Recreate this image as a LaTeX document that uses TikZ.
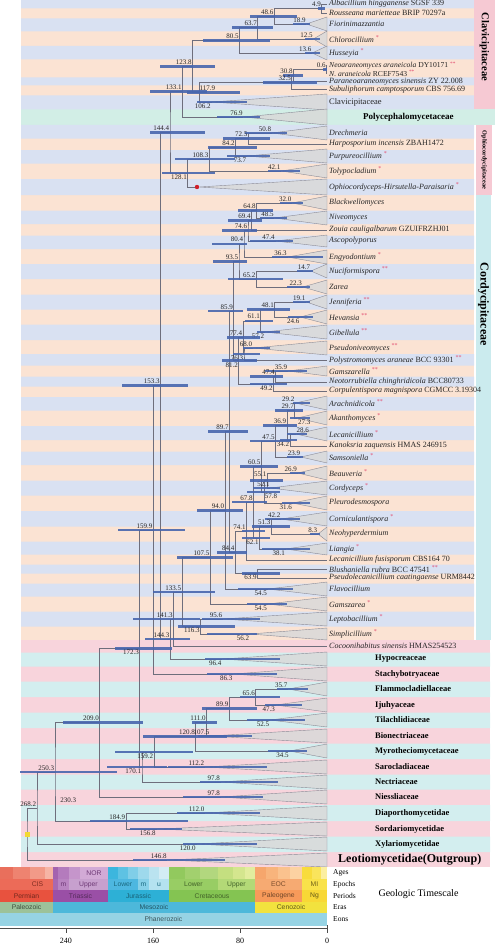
\documentclass[tikz,border=0pt]{standalone}
\usepackage{fontspec}
\setmainfont{Liberation Serif}
\setsansfont{Liberation Sans}
\definecolor{rowblue}{HTML}{D9E1F2}
\definecolor{rowpeach}{HTML}{FBE3D3}
\definecolor{rowpink}{HTML}{F8D4DC}
\definecolor{rowcyan}{HTML}{D3EEEF}
\definecolor{rowmint}{HTML}{D2EEE6}
\definecolor{boxpink}{HTML}{F6C9D3}
\definecolor{boxcyan}{HTML}{CBEBEE}
\definecolor{barblue}{HTML}{4866AE}
\definecolor{treegray}{HTML}{6E6E7C}
\definecolor{cladegray}{HTML}{D9D9D9}
\definecolor{starred}{HTML}{E24A6E}
\definecolor{marker}{HTML}{F3D931}
\definecolor{dotred}{HTML}{D0202A}
\definecolor{agP1}{HTML}{E96F5C}\definecolor{agP2}{HTML}{EE8370}\definecolor{agP3}{HTML}{F29A88}\definecolor{agP4}{HTML}{F6B4A5}
\definecolor{agT1}{HTML}{A463AF}\definecolor{agT2}{HTML}{B47BBD}\definecolor{agT3}{HTML}{C595CB}\definecolor{agT4}{HTML}{D2AAD6}
\definecolor{agJ1}{HTML}{3CB6DE}\definecolor{agJ2}{HTML}{5EC2E3}\definecolor{agJ3}{HTML}{80CEE8}\definecolor{agJ4}{HTML}{9ED9EC}\definecolor{agJ5}{HTML}{BAE3F0}\definecolor{agJ6}{HTML}{D3ECF4}
\definecolor{agK1}{HTML}{92C95E}\definecolor{agK2}{HTML}{A2D06E}\definecolor{agK3}{HTML}{B2D77E}\definecolor{agK4}{HTML}{C4DF80}\definecolor{agK5}{HTML}{D4E68E}\definecolor{agK6}{HTML}{E2ED9E}
\definecolor{agG1}{HTML}{F6A66C}\definecolor{agG2}{HTML}{F8B47C}\definecolor{agG3}{HTML}{FAC28E}\definecolor{agG4}{HTML}{FCD2A2}
\definecolor{agN1}{HTML}{F8DC3C}\definecolor{agN2}{HTML}{FAE45C}\definecolor{agN3}{HTML}{FCEFA0}
\definecolor{epP}{HTML}{EC6B58}\definecolor{epT1}{HTML}{A769B2}\definecolor{epT2}{HTML}{B884C1}\definecolor{epT3}{HTML}{C7A0CE}
\definecolor{epJ1}{HTML}{4DB7E0}\definecolor{epJ2}{HTML}{86D0E8}\definecolor{epJ3}{HTML}{B4E2F0}
\definecolor{epK1}{HTML}{98CD64}\definecolor{epK2}{HTML}{B3D977}\definecolor{epG}{HTML}{F6AA72}\definecolor{epN}{HTML}{F9E24A}
\definecolor{pePerm}{HTML}{E8523E}\definecolor{peTri}{HTML}{9A4FA6}\definecolor{peJur}{HTML}{2DB0D6}
\definecolor{peCre}{HTML}{84C452}\definecolor{pePal}{HTML}{F79A5A}\definecolor{peNeo}{HTML}{F8D836}
\definecolor{erPal}{HTML}{9CC29A}\definecolor{erMes}{HTML}{4DB8DA}\definecolor{erCen}{HTML}{F2E23E}
\definecolor{eoPha}{HTML}{96D3E4}
\newcommand{\mka}{\textsuperscript{\textcolor{starred}{*}}}
\newcommand{\mkb}{\textsuperscript{\textcolor{starred}{**}}}
\begin{document}
\begin{tikzpicture}[x=1pt,y=-1pt,
  branch/.style={draw=treegray, line width=0.5pt},
  hpd/.style={draw=barblue, line width=2.6pt, draw opacity=0.9},
  agelab/.style={anchor=south east, inner sep=0.6pt, yshift=1pt, font=\fontsize{7}{8}\selectfont, text=black!85},
  agelow/.style={agelab, anchor=north east, yshift=-2pt},
  clade/.style={fill=cladegray, draw=treegray!80, line width=0.4pt, fill opacity=0.85},
  tiplab/.style={anchor=west, inner xsep=2pt, inner ysep=0pt, font=\fontsize{8}{9}\selectfont, text=black!85},
  fam/.style={anchor=west, inner xsep=48pt, inner ysep=0pt, font=\bfseries\fontsize{8.5}{9}\selectfont},
  cell/.style={anchor=north west, inner sep=0pt, outer sep=0pt, font=\sffamily\fontsize{6.8}{7}\selectfont},
  tsage/.style={cell, minimum height=12pt},
  tsepoch/.style={cell, minimum height=11pt},
  tsperiod/.style={cell, minimum height=12pt},
  tsera/.style={cell, minimum height=11pt},
  tseon/.style={cell, minimum height=13pt},
  tslab/.style={anchor=west, inner sep=0pt, font=\fontsize{7.5}{8}\selectfont}]
\useasboundingbox (0,0) rectangle (495,947);

\fill[rowpeach] (21,0) rectangle (474,109.5);
\fill[rowmint] (21,109.5) rectangle (495,125);
\fill[rowpeach] (21,125) rectangle (474,640);
\fill[rowpink] (21,640) rectangle (490,867);
\fill[rowblue] (21,0) rectangle (474,8.5) (21,18.5) rectangle (474,31.5) (21,46) rectangle (474,59.5)
  (21,77.5) rectangle (474,85.5) (21,95.5) rectangle (474,109.5) (21,125) rectangle (474,138.5)
  (21,150) rectangle (474,163.5) (21,179) rectangle (474,195) (21,210.5) rectangle (474,224)
  (21,235.5) rectangle (474,249) (21,264) rectangle (474,279) (21,294.5) rectangle (474,309.5)
  (21,324.5) rectangle (474,340) (21,354) rectangle (474,365.5) (21,376.5) rectangle (474,386.5)
  (21,397) rectangle (474,410.5) (21,426) rectangle (474,440) (21,451.5) rectangle (474,465)
  (21,480.5) rectangle (474,495.5) (21,511) rectangle (474,526.5) (21,541.5) rectangle (474,554.5)
  (21,564.5) rectangle (474,573.5) (21,583.5) rectangle (474,596.5) (21,611.5) rectangle (474,626.5);
\fill[rowcyan] (21,652.5) rectangle (490,666.5) (21,681.5) rectangle (490,697) (21,712.5) rectangle (490,728)
  (21,743.5) rectangle (490,759) (21,774.5) rectangle (490,789.5) (21,805) rectangle (490,821)
  (21,836.5) rectangle (490,852);
\fill[boxpink] (474,0) rectangle (495,109.5);
\fill[boxpink] (476,125) rectangle (492,195);
\fill[boxcyan] (476,195) rectangle (491,640);
\node[rotate=-90, font=\bfseries\fontsize{10.5}{11}\selectfont] (clavbox) at (484.5,47) {Clavicipitaceae};
\node[rotate=-90, font=\bfseries\fontsize{6.3}{7}\selectfont] (ophibox) at (484,160) {Ophiocordycipitaceae};
\node[rotate=-90, font=\bfseries\fontsize{12}{13}\selectfont] (cordbox) at (483.5,304) {Cordycipitaceae};

\node[tiplab] (albac) at (327,4) {\textit{Albacillium hingganense} SGSF 339};
\node[tiplab] (rouss) at (327,13) {\textit{Rousseana marietteae} BRIP 70297a};
\node[tiplab] (fiori) at (327,24) {\textit{Fiorinimazzantia}};
\node[tiplab] (chlor) at (327,39) {\textit{Chlorocillium} \mka};
\node[tiplab] (husse) at (327,53) {\textit{Husseyia} \mka};
\node[tiplab, font=\fontsize{7.6}{8}\selectfont] (neoar) at (327,65.5) {\textit{Neoaraneomyces araneicola} DY10171 \mkb};
\node[tiplab, font=\fontsize{7.6}{8}\selectfont] (naran) at (327,73.5) {\textit{N. araneicola} RCEF7543 \mkb};
\node[tiplab] (paran) at (327,81.5) {\textit{Paraneoaraneomyces sinensis} ZY 22.008};
\node[tiplab] (subul) at (327,89.5) {\textit{Subuliphorum camptosporum} CBS 756.69};
\node[tiplab, font=\fontsize{8.5}{9}\selectfont] (clavi) at (327,102) {Clavicipitaceae};
\node[fam, inner xsep=36pt, font=\bfseries\fontsize{9}{10}\selectfont] (polyc) at (327,117) {Polycephalomycetaceae};
\node[tiplab] (drech) at (327,133) {\textit{Drechmeria}};
\node[tiplab] (harpo) at (327,144) {\textit{Harposporium incensis} ZBAH1472};
\node[tiplab] (purpu) at (327,156) {\textit{Purpureocillium} \mka};
\node[tiplab] (tolyp) at (327,171) {\textit{Tolypocladium} \mka};
\node[tiplab] (ophio) at (327,187) {\textit{Ophiocordyceps-Hirsutella-Paraisaria} \mka};
\node[tiplab] (black) at (327,203) {\textit{Blackwellomyces}};
\node[tiplab] (niveo) at (327,218) {\textit{Niveomyces}};
\node[tiplab] (zouia) at (327,230) {\textit{Zouia cauligalbarum} GZUIFRZHJ01};
\node[tiplab] (ascop) at (327,241) {\textit{Ascopolyporus}};
\node[tiplab] (engyo) at (327,257) {\textit{Engyodontium} \mka};
\node[tiplab] (nucif) at (327,271) {\textit{Nuciformispora} \mkb};
\node[tiplab] (zarea) at (327,287) {\textit{Zarea}};
\node[tiplab] (jenni) at (327,302) {\textit{Jenniferia} \mkb};
\node[tiplab] (hevan) at (327,317) {\textit{Hevansia} \mkb};
\node[tiplab] (gibel) at (327,332) {\textit{Gibellula} \mkb};
\node[tiplab] (pseun) at (327,348) {\textit{Pseudoniveomyces} \mkb};
\node[tiplab] (polys) at (327,360) {\textit{Polystromomyces araneae} BCC 93301 \mkb};
\node[tiplab] (gamsl) at (327,371) {\textit{Gamszarella} \mkb};
\node[tiplab] (neoto) at (327,382) {\textit{Neotorrubiella chinghridicola} BCC80733};
\node[tiplab] (corpu) at (327,391) {\textit{Corpulentispora magnispora} CGMCC 3.19304};
\node[tiplab] (arach) at (327,403) {\textit{Arachnidicola} \mkb};
\node[tiplab] (akant) at (327,418) {\textit{Akanthomyces} \mka};
\node[tiplab] (lecan) at (327,434) {\textit{Lecanicillium} \mka};
\node[tiplab] (kanok) at (327,446) {\textit{Kanoksria zaquensis} HMAS 246915};
\node[tiplab] (samso) at (327,457) {\textit{Samsoniella} \mka};
\node[tiplab] (beauv) at (327,473) {\textit{Beauveria} \mka};
\node[tiplab] (cordy) at (327,488) {\textit{Cordyceps} \mka};
\node[tiplab] (pleur) at (327,503) {\textit{Pleurodesmospora}};
\node[tiplab] (cornu) at (327,519) {\textit{Corniculantispora} \mka};
\node[tiplab] (neohy) at (327,534) {\textit{Neohyperdermium}};
\node[tiplab] (liang) at (327,549) {\textit{Liangia} \mka};
\node[tiplab] (lecfu) at (327,560) {\textit{Lecanicillium fusisporum} CBS164 70};
\node[tiplab] (blush) at (327,569) {\textit{Blushaniella rubra} BCC 47541 \mkb};
\node[tiplab] (pseul) at (327,578) {\textit{Pseudolecanicillium caatingaense} URM8442};
\node[tiplab] (flavo) at (327,589) {\textit{Flavocillium}};
\node[tiplab] (gamsa) at (327,604) {\textit{Gamszarea} \mka};
\node[tiplab] (lepto) at (327,619) {\textit{Leptobacillium} \mka};
\node[tiplab] (simpl) at (327,634) {\textit{Simplicillium} \mka};
\node[tiplab] (cocoo) at (327,646) {\textit{Cocoonihabitus sinensis} HMAS254523};
\node[fam] (hypoc) at (327,659) {Hypocreaceae};
\node[fam] (stach) at (327,674) {Stachybotryaceae};
\node[fam] (flamm) at (327,689) {Flammocladiellaceae};
\node[fam] (ijuhy) at (327,705) {Ijuhyaceae};
\node[fam] (tilac) at (327,720) {Tilachlidiaceae};
\node[fam] (bione) at (327,736) {Bionectriaceae};
\node[fam] (myrot) at (327,751) {Myrotheciomycetaceae};
\node[fam] (saroc) at (327,767) {Sarocladiaceae};
\node[fam] (nectr) at (327,782) {Nectriaceae};
\node[fam] (niess) at (327,797) {Niessliaceae};
\node[fam] (diapo) at (327,813) {Diaporthomycetidae};
\node[fam] (sorda) at (327,829) {Sordariomycetidae};
\node[fam] (xylar) at (327,844) {Xylariomycetidae};
\node[fam, inner xsep=11pt, font=\bfseries\fontsize{12}{13}\selectfont] (leoti) at (327,860) {Leotiomycetidae(Outgroup)};

\coordinate (c189) at (306.4,24);
\coordinate (c125) at (313.4,39);
\coordinate (c136) at (312.2,53);
\coordinate (c1062) at (211.5,102);
\coordinate (c769) at (243.4,117);
\coordinate (c508) at (271.8,133);
\coordinate (c737) at (246.9,156);
\coordinate (c421) at (281.2,171);
\coordinate (cophio) at (199,187);
\coordinate (c320) at (292.2,203);
\coordinate (c485) at (274.3,218);
\coordinate (c474a) at (275.5,241);
\coordinate (c363) at (287.5,257);
\coordinate (c147) at (311,271);
\coordinate (c223) at (302.7,287);
\coordinate (c191) at (306.2,302);
\coordinate (c246) at (300.2,317);
\coordinate (c572) at (264.8,332);
\coordinate (c680) at (253,348);
\coordinate (c359) at (288,371);
\coordinate (c292) at (295.2,403);
\coordinate (c273) at (297.3,418);
\coordinate (c286) at (295.9,434);
\coordinate (c239) at (301,457);
\coordinate (c269) at (297.7,473);
\coordinate (c521) at (270.3,488);
\coordinate (c316) at (292.6,503);
\coordinate (c422) at (281.1,519);
\coordinate (c83) at (318,534);
\coordinate (c381) at (285.6,549);
\coordinate (c545a) at (267.7,589);
\coordinate (c545b) at (267.7,604);
\coordinate (c956) at (223,619);
\coordinate (c562) at (250,634);
\coordinate (c964) at (222.2,659);
\coordinate (c863) at (233.1,674);
\coordinate (c357) at (288.2,689);
\coordinate (c473) at (275.6,705);
\coordinate (c525) at (269.9,720);
\coordinate (c1075b) at (210.1,736);
\coordinate (c345) at (289.5,751);
\coordinate (c1122) at (205,767);
\coordinate (c978a) at (220.6,782);
\coordinate (c978b) at (220.6,797);
\coordinate (c1120) at (205.2,813);
\coordinate (c1568) at (156.5,829);
\coordinate (c1200) at (196.5,844);
\coordinate (c1468) at (167.4,860);

\filldraw[clade] (c189) -- ([yshift=7pt]fiori.west) -- ([yshift=-7pt]fiori.west) -- cycle;
\filldraw[clade] (c125) -- ([yshift=8pt]chlor.west) -- ([yshift=-8pt]chlor.west) -- cycle;
\filldraw[clade] (c136) -- ([yshift=7pt]husse.west) -- ([yshift=-7pt]husse.west) -- cycle;
\filldraw[clade] (c1062) -- ([yshift=8pt]clavi.west) -- ([yshift=-8pt]clavi.west) -- cycle;
\filldraw[clade] (c769) -- ([yshift=8pt]polyc.west) -- ([yshift=-8pt]polyc.west) -- cycle;
\filldraw[clade] (c508) -- ([yshift=7pt]drech.west) -- ([yshift=-7pt]drech.west) -- cycle;
\filldraw[clade] (c737) -- ([yshift=7pt]purpu.west) -- ([yshift=-7pt]purpu.west) -- cycle;
\filldraw[clade] (c421) -- ([yshift=7pt]tolyp.west) -- ([yshift=-7pt]tolyp.west) -- cycle;
\filldraw[clade] (cophio) -- ([yshift=8pt]ophio.west) -- ([yshift=-8pt]ophio.west) -- cycle;
\filldraw[clade] (c320) -- ([yshift=7pt]black.west) -- ([yshift=-7pt]black.west) -- cycle;
\filldraw[clade] (c485) -- ([yshift=7pt]niveo.west) -- ([yshift=-7pt]niveo.west) -- cycle;
\filldraw[clade] (c474a) -- ([yshift=6pt]ascop.west) -- ([yshift=-6pt]ascop.west) -- cycle;
\filldraw[clade] (c363) -- ([yshift=7pt]engyo.west) -- ([yshift=-7pt]engyo.west) -- cycle;
\filldraw[clade] (c147) -- ([yshift=7pt]nucif.west) -- ([yshift=-7pt]nucif.west) -- cycle;
\filldraw[clade] (c223) -- ([yshift=7pt]zarea.west) -- ([yshift=-7pt]zarea.west) -- cycle;
\filldraw[clade] (c191) -- ([yshift=7pt]jenni.west) -- ([yshift=-7pt]jenni.west) -- cycle;
\filldraw[clade] (c246) -- ([yshift=7pt]hevan.west) -- ([yshift=-7pt]hevan.west) -- cycle;
\filldraw[clade] (c572) -- ([yshift=7pt]gibel.west) -- ([yshift=-7pt]gibel.west) -- cycle;
\filldraw[clade] (c680) -- ([yshift=7pt]pseun.west) -- ([yshift=-7pt]pseun.west) -- cycle;
\filldraw[clade] (c359) -- ([yshift=5pt]gamsl.west) -- ([yshift=-5pt]gamsl.west) -- cycle;
\filldraw[clade] (c292) -- ([yshift=7pt]arach.west) -- ([yshift=-7pt]arach.west) -- cycle;
\filldraw[clade] (c273) -- ([yshift=7pt]akant.west) -- ([yshift=-7pt]akant.west) -- cycle;
\filldraw[clade] (c286) -- ([yshift=7pt]lecan.west) -- ([yshift=-7pt]lecan.west) -- cycle;
\filldraw[clade] (c239) -- ([yshift=6pt]samso.west) -- ([yshift=-6pt]samso.west) -- cycle;
\filldraw[clade] (c269) -- ([yshift=7pt]beauv.west) -- ([yshift=-7pt]beauv.west) -- cycle;
\filldraw[clade] (c521) -- ([yshift=7pt]cordy.west) -- ([yshift=-7pt]cordy.west) -- cycle;
\filldraw[clade] (c316) -- ([yshift=7pt]pleur.west) -- ([yshift=-7pt]pleur.west) -- cycle;
\filldraw[clade] (c422) -- ([yshift=7pt]cornu.west) -- ([yshift=-7pt]cornu.west) -- cycle;
\filldraw[clade] (c83) -- ([yshift=7pt]neohy.west) -- ([yshift=-7pt]neohy.west) -- cycle;
\filldraw[clade] (c381) -- ([yshift=6pt]liang.west) -- ([yshift=-6pt]liang.west) -- cycle;
\filldraw[clade] (c545a) -- ([yshift=7pt]flavo.west) -- ([yshift=-7pt]flavo.west) -- cycle;
\filldraw[clade] (c545b) -- ([yshift=7pt]gamsa.west) -- ([yshift=-7pt]gamsa.west) -- cycle;
\filldraw[clade] (c956) -- ([yshift=7pt]lepto.west) -- ([yshift=-7pt]lepto.west) -- cycle;
\filldraw[clade] (c562) -- ([yshift=6pt]simpl.west) -- ([yshift=-6pt]simpl.west) -- cycle;
\filldraw[clade] (c964) -- ([yshift=7pt]hypoc.west) -- ([yshift=-7pt]hypoc.west) -- cycle;
\filldraw[clade] (c863) -- ([yshift=7pt]stach.west) -- ([yshift=-7pt]stach.west) -- cycle;
\filldraw[clade] (c357) -- ([yshift=7pt]flamm.west) -- ([yshift=-7pt]flamm.west) -- cycle;
\filldraw[clade] (c473) -- ([yshift=7pt]ijuhy.west) -- ([yshift=-7pt]ijuhy.west) -- cycle;
\filldraw[clade] (c525) -- ([yshift=7pt]tilac.west) -- ([yshift=-7pt]tilac.west) -- cycle;
\filldraw[clade] (c1075b) -- ([yshift=7pt]bione.west) -- ([yshift=-7pt]bione.west) -- cycle;
\filldraw[clade] (c345) -- ([yshift=7pt]myrot.west) -- ([yshift=-7pt]myrot.west) -- cycle;
\filldraw[clade] (c1122) -- ([yshift=7pt]saroc.west) -- ([yshift=-7pt]saroc.west) -- cycle;
\filldraw[clade] (c978a) -- ([yshift=7pt]nectr.west) -- ([yshift=-7pt]nectr.west) -- cycle;
\filldraw[clade] (c978b) -- ([yshift=7pt]niess.west) -- ([yshift=-7pt]niess.west) -- cycle;
\filldraw[clade] (c1120) -- ([yshift=7pt]diapo.west) -- ([yshift=-7pt]diapo.west) -- cycle;
\filldraw[clade] (c1568) -- ([yshift=7pt]sorda.west) -- ([yshift=-7pt]sorda.west) -- cycle;
\filldraw[clade] (c1200) -- ([yshift=7pt]xylar.west) -- ([yshift=-7pt]xylar.west) -- cycle;
\filldraw[clade] (c1468) -- ([yshift=7pt]leoti.west) -- ([yshift=-7pt]leoti.west) -- cycle;

\coordinate (n49) at (321.7,8.5);
\coordinate (n486) at (274.1,16.3);
\coordinate (n637) at (257.7,27.6);
\coordinate (n805) at (239.5,40.3);
\coordinate (n06) at (326.3,69.5);
\coordinate (n308) at (293.5,75.5);
\coordinate (n325) at (291.7,82.5);
\coordinate (n1179) at (198.8,92.3);
\coordinate (n1238) at (192.4,66.3);
\coordinate (n1331) at (182.3,91.7);
\coordinate (n725) at (248.2,138.5);
\coordinate (n842) at (235.4,147.3);
\coordinate (n1083) at (209.2,159.1);
\coordinate (n1281) at (187.7,173);
\coordinate (n1444) at (170,132.3);
\coordinate (n648) at (256.5,210.5);
\coordinate (n694) at (251.5,220.3);
\coordinate (n746) at (248,230.6);
\coordinate (n804) at (244,243.8);
\coordinate (n652) at (256.1,279);
\coordinate (n935) at (239,261.4);
\coordinate (n481) at (274.7,309.5);
\coordinate (n611) at (260.6,320.8);
\coordinate (n763) at (244,354);
\coordinate (n774) at (242.8,337.4);
\coordinate (n474b) at (275.5,376.5);
\coordinate (n492) at (273.5,383.8);
\coordinate (n812) at (238.7,360.6);
\coordinate (n859) at (233.6,311);
\coordinate (n297) at (294.7,410.5);
\coordinate (n342) at (289.8,440);
\coordinate (n369) at (286.9,425.3);
\coordinate (n475) at (275.3,441.1);
\coordinate (n551) at (267.1,480.5);
\coordinate (n578) at (264.1,491.8);
\coordinate (n605) at (261.2,466.5);
\coordinate (n513) at (271.2,526.5);
\coordinate (n621) at (259.5,537.8);
\coordinate (n678) at (253.3,502.1);
\coordinate (n741) at (246.4,531);
\coordinate (n639) at (257.5,573.5);
\coordinate (n844) at (235.2,552.3);
\coordinate (n897) at (229.4,431.6);
\coordinate (n940) at (224.8,510.3);
\coordinate (n1075a) at (210.1,557.2);
\coordinate (n1163) at (200.5,626.5);
\coordinate (n1335) at (181.8,591.9);
\coordinate (n1413) at (173.3,619);
\coordinate (n1443) at (170.1,639);
\coordinate (n1533) at (160.3,385.7);
\coordinate (n1599) at (153.1,529.9);
\coordinate (n656) at (255.7,697);
\coordinate (n899) at (229.2,708.5);
\coordinate (n1110) at (206.3,722.3);
\coordinate (n1208) at (195.6,736.6);
\coordinate (n1592) at (153.9,751.8);
\coordinate (n1701) at (142,766.9);
\coordinate (n1723) at (139.6,648.4);
\coordinate (n2090) at (99.7,722.7);
\coordinate (n1849) at (125.9,821);
\coordinate (n2503) at (55,771.9);
\coordinate (n2682) at (37,808);
\coordinate (root) at (27,834);

\draw[branch] (albac.west) -| (n49) |- (rouss.west);
\draw[branch] (n49) -| (n486) |- (c189);
\draw[branch] (n486) -| (n637) |- (c125);
\draw[branch] (n637) -| (n805) |- (c136);
\draw[branch] (neoar.west) -| (n06) |- (naran.west);
\draw[branch] (n06) -| (n308) |- (paran.west);
\draw[branch] (n308) -| (n325) |- (subul.west);
\draw[branch] (n325) -| (n1179) |- (c1062);
\draw[branch] (n805) -| (n1238) |- (n1179);
\draw[branch] (n1238) -| (n1331) |- (c769);
\draw[branch] (c508) -| (n725) |- (harpo.west);
\draw[branch] (n725) -| (n842) |- (c737);
\draw[branch] (n842) -| (n1083) |- (c421);
\draw[branch] (n1083) -| (n1281) |- (cophio);
\draw[branch] (n1331) -| (n1444) |- (n1281);
\draw[branch] (c320) -| (n648) |- (c485);
\draw[branch] (n648) -| (n694) |- (zouia.west);
\draw[branch] (n694) -| (n746) |- (c474a);
\draw[branch] (n746) -| (n804) |- (c363);
\draw[branch] (c147) -| (n652) |- (c223);
\draw[branch] (n804) -| (n935) |- (n652);
\draw[branch] (c191) -| (n481) |- (c246);
\draw[branch] (n481) -| (n611) |- (c572);
\draw[branch] (c680) -| (n763) |- (polys.west);
\draw[branch] (n611) -| (n774) |- (n763);
\draw[branch] (c359) -| (n474b) |- (neoto.west);
\draw[branch] (n474b) -| (n492) |- (corpu.west);
\draw[branch] (n774) -| (n812) |- (n492);
\draw[branch] (n935) -| (n859) |- (n812);
\draw[branch] (c292) -| (n297) |- (c273);
\draw[branch] (c286) -| (n342) |- (kanok.west);
\draw[branch] (n297) -| (n369) |- (n342);
\draw[branch] (n369) -| (n475) |- (c239);
\draw[branch] (c269) -| (n551) |- (c521);
\draw[branch] (n551) -| (n578) |- (c316);
\draw[branch] (n475) -| (n605) |- (n578);
\draw[branch] (c422) -| (n513) |- (c83);
\draw[branch] (n513) -| (n621) |- (c381);
\draw[branch] (n605) -| (n678) |- (n621);
\draw[branch] (n678) -| (n741) |- (lecfu.west);
\draw[branch] (blush.west) -| (n639) |- (pseul.west);
\draw[branch] (n741) -| (n844) |- (n639);
\draw[branch] (n859) -| (n897) |- (n844);
\draw[branch] (n897) -| (n940) |- (c545a);
\draw[branch] (n940) -| (n1075a) |- (c545b);
\draw[branch] (c956) -| (n1163) |- (c562);
\draw[branch] (n1075a) -| (n1335) |- (n1163);
\draw[branch] (n1335) -| (n1413) |- (cocoo.west);
\draw[branch] (n1413) -| (n1443) |- (c964);
\draw[branch] (n1444) -| (n1533) |- (n1443);
\draw[branch] (n1533) -| (n1599) |- (c863);
\draw[branch] (c357) -| (n656) |- (c473);
\draw[branch] (n656) -| (n899) |- (c525);
\draw[branch] (n899) -| (n1110) |- (c1075b);
\draw[branch] (n1110) -| (n1208) |- (c345);
\draw[branch] (n1208) -| (n1592) |- (c1122);
\draw[branch] (n1592) -| (n1701) |- (c978a);
\draw[branch] (n1599) -| (n1723) |- (n1701);
\draw[branch] (n1723) -| (n2090) |- (c978b);
\draw[branch] (c1120) -| (n1849) |- (c1568);
\draw[branch] (n2090) -| (n2503) |- (n1849);
\draw[branch] (n2503) -| (n2682) |- (c1200);
\draw[branch] (n2682) -| (root) |- (c1468);

\draw[hpd] (n49) +(-3.7,0) -- +(3.3,0); \node[agelab] (a49) at (n49) {4.9};
\draw[hpd] (c189) +(-13.4,0) -- +(3.6,0); \node[agelab] (a189) at (c189) {18.9};
\draw[hpd] (n486) +(-24.1,0) -- +(22.9,0); \node[agelab] (a486) at (n486) {48.6};
\draw[hpd] (c125) +(-8.4,0) -- +(6.6,0); \node[agelab] (a125) at (c125) {12.5};
\draw[hpd] (n637) +(-25.7,0) -- +(15.3,0); \node[agelab] (a637) at (n637) {63.7};
\draw[hpd] (c136) +(-7.2,0) -- +(7.8,0); \node[agelab] (a136) at (c136) {13.6};
\draw[hpd] (n805) +(-36.5,0) -- +(30.5,0); \node[agelab] (a805) at (n805) {80.5};
\draw[hpd] (n06) +(-3.3,0) -- +(0.7,0); \node[agelab] (a06) at (n06) {0.6};
\draw[hpd] (n308) +(-10.5,0) -- +(9.5,0); \node[agelab] (a308) at (n308) {30.8};
\draw[hpd] (n325) +(-28.7,0) -- +(25.3,0); \node[agelab] (a325) at (n325) {32.5};
\draw[hpd] (c1062) +(-14.5,0) -- +(35.5,0); \node[agelow] (a1062) at (c1062) {106.2};
\draw[hpd] (n1179) +(-11.8,0) -- +(41.2,0); \node[agelab, anchor=south west] (a1179) at (n1179) {117.9};
\draw[hpd] (n1238) +(-32.4,0) -- +(22.6,0); \node[agelab] (a1238) at (n1238) {123.8};
\draw[hpd] (c769) +(-26.4,0) -- +(16.6,0); \node[agelab] (a769) at (c769) {76.9};
\draw[hpd] (n1331) +(-32.3,0) -- +(24.7,0); \node[agelab] (a1331) at (n1331) {133.1};
\draw[hpd] (c508) +(-26.8,0) -- +(15.2,0); \node[agelab] (a508) at (c508) {50.8};
\draw[hpd] (n725) +(-25.2,0) -- +(21.8,0); \node[agelab] (a725) at (n725) {72.5};
\draw[hpd] (c737) +(-19.9,0) -- +(23.1,0); \node[agelow] (a737) at (c737) {73.7};
\draw[hpd] (n842) +(-27.4,0) -- +(21.6,0); \node[agelab] (a842) at (n842) {84.2};
\draw[hpd] (c421) +(-13.2,0) -- +(18.8,0); \node[agelab] (a421) at (c421) {42.1};
\draw[hpd] (n1083) +(-34.2,0) -- +(25.8,0); \node[agelab] (a1083) at (n1083) {108.3};
\draw[hpd] (n1281) +(-25.7,0) -- +(27.3,0); \node[agelow] (a1281) at (n1281) {128.1};
\draw[hpd] (n1444) +(-20,0) -- +(35,0); \node[agelab] (a1444) at (n1444) {144.4};
\draw[hpd] (c320) +(-12.2,0) -- +(10.8,0); \node[agelab] (a320) at (c320) {32.0};
\draw[hpd] (c485) +(-14.3,0) -- +(12.7,0); \node[agelab] (a485) at (c485) {48.5};
\draw[hpd] (n648) +(-18.5,0) -- +(16.5,0); \node[agelab] (a648) at (n648) {64.8};
\draw[hpd] (n694) +(-23.5,0) -- +(10.5,0); \node[agelab] (a694) at (n694) {69.4};
\draw[hpd] (c474a) +(-25.5,0) -- +(17.5,0); \node[agelab] (a474a) at (c474a) {47.4};
\draw[hpd] (n746) +(-26,0) -- +(9,0); \node[agelab] (a746) at (n746) {74.6};
\draw[hpd] (c363) +(-15.5,0) -- +(35.5,0); \node[agelab] (a363) at (c363) {36.3};
\draw[hpd] (n804) +(-32,0) -- +(3,0); \node[agelab] (a804) at (n804) {80.4};
\draw[hpd] (c147) +(-14,0) -- +(2,0); \node[agelab] (a147) at (c147) {14.7};
\draw[hpd] (c223) +(-15.7,0) -- +(7.3,0); \node[agelab] (a223) at (c223) {22.3};
\draw[hpd] (n652) +(-28.1,0) -- +(26.9,0); \node[agelab] (a652) at (n652) {65.2};
\draw[hpd] (n935) +(-26,0) -- +(8,0); \node[agelab] (a935) at (n935) {93.5};
\draw[hpd] (c191) +(-13.2,0) -- +(3.8,0); \node[agelab] (a191) at (c191) {19.1};
\draw[hpd] (c246) +(-12.2,0) -- +(12.8,0); \node[agelow] (a246) at (c246) {24.6};
\draw[hpd] (n481) +(-27.7,0) -- +(15.3,0); \node[agelab] (a481) at (n481) {48.1};
\draw[hpd] (c572) +(-7.8,0) -- +(15.2,0); \node[agelow] (a572) at (c572) {57.2};
\draw[hpd] (n611) +(-15.6,0) -- +(12.4,0); \node[agelab] (a611) at (n611) {61.1};
\draw[hpd] (c680) +(-10,0) -- +(17,0); \node[agelab] (a680) at (c680) {68.0};
\draw[hpd] (n763) +(-11,0) -- +(16,0); \node[agelow] (a763) at (n763) {76.3};
\draw[hpd] (n774) +(-15.8,0) -- +(17.2,0); \node[agelab] (a774) at (n774) {77.4};
\draw[hpd] (c359) +(-23,0) -- +(19,0); \node[agelab] (a359) at (c359) {35.9};
\draw[hpd] (n474b) +(-25.5,0) -- +(7.5,0); \node[agelab] (a474b) at (n474b) {47.4};
\draw[hpd] (n492) +(-23.5,0) -- +(13.5,0); \node[agelow] (a492) at (n492) {49.2};
\draw[hpd] (n812) +(-16.7,0) -- +(18.3,0); \node[agelow] (a812) at (n812) {81.2};
\draw[hpd] (n859) +(-25.6,0) -- +(9.4,0); \node[agelab] (a859) at (n859) {85.9};
\draw[hpd] (c292) +(-2.2,0) -- +(14.8,0); \node[agelab] (a292) at (c292) {29.2};
\draw[hpd] (c273) +(-7.3,0) -- +(12.7,0); \node[agelow, anchor=north west] (a273) at (c273) {27.3};
\draw[hpd] (n297) +(-19.7,0) -- +(8.3,0); \node[agelab] (a297) at (n297) {29.7};
\draw[hpd] (c286) +(-8.9,0) -- +(11.1,0); \node[agelab, anchor=south west] (a286) at (c286) {28.6};
\draw[hpd] (n342) +(-9.8,0) -- +(7.2,0); \node[agelow] (a342) at (n342) {34.2};
\draw[hpd] (n369) +(-23.9,0) -- +(10.1,0); \node[agelab] (a369) at (n369) {36.9};
\draw[hpd] (c239) +(-14,0) -- +(2,0); \node[agelab] (a239) at (c239) {23.9};
\draw[hpd] (n475) +(-25.3,0) -- +(14.7,0); \node[agelab] (a475) at (n475) {47.5};
\draw[hpd] (c269) +(-7.7,0) -- +(7.3,0); \node[agelab] (a269) at (c269) {26.9};
\draw[hpd] (c521) +(-17.3,0) -- +(9.7,0); \node[agelab] (a521) at (c521) {52.1};
\draw[hpd] (n551) +(-17.1,0) -- +(15.9,0); \node[agelab, yshift=2pt] (a551) at (n551) {55.1};
\draw[hpd] (c316) +(-10.6,0) -- +(17.4,0); \node[agelow] (a316) at (c316) {31.6};
\draw[hpd] (n578) +(-17.1,0) -- +(15.9,0); \node[agelow, anchor=north west] (a578) at (n578) {57.8};
\draw[hpd] (n605) +(-21.2,0) -- +(16.8,0); \node[agelab] (a605) at (n605) {60.5};
\draw[hpd] (c422) +(-16.1,0) -- +(18.9,0); \node[agelab] (a422) at (c422) {42.2};
\draw[hpd] (c83) +(-8,0) -- +(2,0); \node[agelab] (a83) at (c83) {8.3};
\draw[hpd] (n513) +(-19.2,0) -- +(18.8,0); \node[agelab] (a513) at (n513) {51.3};
\draw[hpd] (c381) +(-23.6,0) -- +(24.4,0); \node[agelow] (a381) at (c381) {38.1};
\draw[hpd] (n621) +(-17.5,0) -- +(10.5,0); \node[agelow] (a621) at (n621) {62.1};
\draw[hpd] (n678) +(-21.3,0) -- +(13.7,0); \node[agelab] (a678) at (n678) {67.8};
\draw[hpd] (n741) +(-4.4,0) -- +(18.6,0); \node[agelab] (a741) at (n741) {74.1};
\draw[hpd] (n639) +(-15.5,0) -- +(22.5,0); \node[agelow] (a639) at (n639) {63.9};
\draw[hpd] (n844) +(-18.2,0) -- +(11.8,0); \node[agelab] (a844) at (n844) {84.4};
\draw[hpd] (n897) +(-21.4,0) -- +(18.6,0); \node[agelab] (a897) at (n897) {89.7};
\draw[hpd] (c545a) +(-29.7,0) -- +(25.3,0); \node[agelow] (a545a) at (c545a) {54.5};
\draw[hpd] (n940) +(-27.8,0) -- +(18.2,0); \node[agelab] (a940) at (n940) {94.0};
\draw[hpd] (c545b) +(-20.7,0) -- +(19.3,0); \node[agelow] (a545b) at (c545b) {54.5};
\draw[hpd] (n1075a) +(-33.1,0) -- +(22.9,0); \node[agelab] (a1075a) at (n1075a) {107.5};
\draw[hpd] (c956) +(-21,0) -- +(37,0); \node[agelab] (a956) at (c956) {95.6};
\draw[hpd] (c562) +(-43,0) -- +(7,0); \node[agelow] (a562) at (c562) {56.2};
\draw[hpd] (n1163) +(-22.5,0) -- +(34.5,0); \node[agelow] (a1163) at (n1163) {116.3};
\draw[hpd] (n1335) +(-28.8,0) -- +(33.2,0); \node[agelab] (a1335) at (n1335) {133.5};
\draw[hpd] (n1413) +(-40.3,0) -- +(26.7,0); \node[agelab] (a1413) at (n1413) {141.3};
\draw[hpd] (c964) +(-17.2,0) -- +(57.8,0); \node[agelow] (a964) at (c964) {96.4};
\draw[hpd] (n1443) +(-25.1,0) -- +(19.9,0); \node[agelab] (a1443) at (n1443) {144.3};
\draw[hpd] (n1533) +(-38.3,0) -- +(27.7,0); \node[agelab] (a1533) at (n1533) {153.3};
\draw[hpd] (c863) +(-26.1,0) -- +(43.9,0); \node[agelow] (a863) at (c863) {86.3};
\draw[hpd] (n1599) +(-35.1,0) -- +(31.9,0); \node[agelab] (a1599) at (n1599) {159.9};
\draw[hpd] (c357) +(-11.2,0) -- +(19.8,0); \node[agelab] (a357) at (c357) {35.7};
\draw[hpd] (c473) +(-10.6,0) -- +(26.4,0); \node[agelow] (a473) at (c473) {47.3};
\draw[hpd] (n656) +(-15.7,0) -- +(24.3,0); \node[agelab] (a656) at (n656) {65.6};
\draw[hpd] (c525) +(-22.9,0) -- +(35.1,0); \node[agelow] (a525) at (c525) {52.5};
\draw[hpd] (n899) +(-27.2,0) -- +(27.8,0); \node[agelab] (a899) at (n899) {89.9};
\draw[hpd] (c1075b) +(-12.1,0) -- +(41.9,0); \node[agelab] (a1075b) at (c1075b) {107.5};
\draw[hpd] (n1110) +(-14.3,0) -- +(10.7,0); \node[agelab] (a1110) at (n1110) {111.0};
\draw[hpd] (c345) +(-21.5,0) -- +(17.5,0); \node[agelow] (a345) at (c345) {34.5};
\draw[hpd] (n1208) +(-52.6,0) -- +(31.4,0); \node[agelab] (a1208) at (n1208) {120.8};
\draw[hpd] (c1122) +(-37,0) -- +(62,0); \node[agelab] (a1122) at (c1122) {112.2};
\draw[hpd] (n1592) +(-38.9,0) -- +(39.1,0); \node[agelow] (a1592) at (n1592) {159.2};
\draw[hpd] (c978a) +(-20.6,0) -- +(57.4,0); \node[agelab] (a978a) at (c978a) {97.8};
\draw[hpd] (n1701) +(-35,0) -- +(25,0); \node[agelow] (a1701) at (n1701) {170.1};
\draw[hpd] (n1723) +(-24.6,0) -- +(32.4,0); \node[agelow] (a1723) at (n1723) {172.3};
\draw[hpd] (c978b) +(-37.6,0) -- +(42.4,0); \node[agelab] (a978b) at (c978b) {97.8};
\draw[hpd] (n2090) +(-36.7,0) -- +(43.3,0); \node[agelab] (a2090) at (n2090) {209.0};
\draw[hpd] (c1120) +(-28.2,0) -- +(54.8,0); \node[agelab] (a1120) at (c1120) {112.0};
\draw[hpd] (c1568) +(-26.5,0) -- +(25.5,0); \node[agelow] (a1568) at (c1568) {156.8};
\draw[hpd] (n1849) +(-35.9,0) -- +(62.1,0); \node[agelab] (a1849) at (n1849) {184.9};
\draw[hpd] (n2503) +(-35,0) -- +(62,0); \node[agelab] (a2503) at (n2503) {250.3};
\draw[hpd] (c1200) +(-13.5,0) -- +(60.5,0); \node[agelow] (a1200) at (c1200) {120.0};
\draw[hpd] (c1468) +(-34.4,0) -- +(57.6,0); \node[agelab] (a1468) at (c1468) {146.8};
\node[agelab] (a2682) at (n2682) {268.2};
\node[agelab] (a2303) at (77,804) {230.3};
\fill[dotred] (cophio) +(-2,0) circle (2.2);
\fill[marker] (root) +(-2.5,-2.5) rectangle +(2.5,2.5);

\node[tsage, fill=agP1, minimum width=13pt] (ag1) at (0,867) {};
\node[tsage, fill=agP2, minimum width=17pt] (ag2) at (13,867) {};
\node[tsage, fill=agP3, minimum width=15pt] (ag3) at (30,867) {};
\node[tsage, fill=agP4, minimum width=8pt] (ag4) at (45,867) {};
\node[tsage, fill=agT1, minimum width=5pt] (ag5) at (53,867) {};
\node[tsage, fill=agT2, minimum width=11pt] (ag6) at (58,867) {};
\node[tsage, fill=agT3, minimum width=11pt] (ag7) at (69,867) {};
\node[tsage, fill=agT4, minimum width=28pt, text=peTri!70!black] (ag8) at (80,867) {NOR};
\node[tsage, fill=agJ1, minimum width=10pt] (ag9) at (108,867) {};
\node[tsage, fill=agJ2, minimum width=10pt] (ag10) at (118,867) {};
\node[tsage, fill=agJ3, minimum width=10pt] (ag11) at (128,867) {};
\node[tsage, fill=agJ4, minimum width=11pt] (ag12) at (138,867) {};
\node[tsage, fill=agJ5, minimum width=10pt] (ag13) at (149,867) {};
\node[tsage, fill=agJ6, minimum width=10pt] (ag14) at (159,867) {};
\node[tsage, fill=agK1, minimum width=16pt] (ag15) at (169,867) {};
\node[tsage, fill=agK2, minimum width=15pt] (ag16) at (185,867) {};
\node[tsage, fill=agK3, minimum width=18pt] (ag17) at (200,867) {};
\node[tsage, fill=agK4, minimum width=15pt] (ag18) at (218,867) {};
\node[tsage, fill=agK5, minimum width=12pt] (ag19) at (233,867) {};
\node[tsage, fill=agK6, minimum width=10pt] (ag20) at (245,867) {};
\node[tsage, fill=agG1, minimum width=11pt] (ag21) at (255,867) {};
\node[tsage, fill=agG2, minimum width=12pt] (ag22) at (266,867) {};
\node[tsage, fill=agG3, minimum width=12pt] (ag23) at (278,867) {};
\node[tsage, fill=agG4, minimum width=12pt] (ag24) at (290,867) {};
\node[tsage, fill=agN1, minimum width=10pt] (ag25) at (302,867) {};
\node[tsage, fill=agN2, minimum width=9pt] (ag26) at (312,867) {};
\node[tsage, fill=agN3, minimum width=6pt] (ag27) at (321,867) {};

\node[tsepoch, fill=epP, minimum width=22pt] (ep1) at (0,879) {};
\node[tsepoch, fill=epP, minimum width=31pt, text=pePerm!55!black] (ep2) at (22,879) {CIS};
\node[tsepoch, fill=epT1, minimum width=5pt] (ep3) at (53,879) {};
\node[tsepoch, fill=epT2, minimum width=11pt, text=peTri!70!black] (ep4) at (58,879) {m};
\node[tsepoch, fill=epT3, minimum width=39pt, text=peTri!70!black] (ep5) at (69,879) {Upper};
\node[tsepoch, fill=epJ1, minimum width=30pt, text=peJur!60!black] (ep6) at (108,879) {Lower};
\node[tsepoch, fill=epJ2, minimum width=11pt, text=peJur!60!black] (ep7) at (138,879) {m};
\node[tsepoch, fill=epJ3, minimum width=20pt, text=peJur!60!black] (ep8) at (149,879) {u};
\node[tsepoch, fill=epK1, minimum width=49pt, text=peCre!50!black] (ep9) at (169,879) {Lower};
\node[tsepoch, fill=epK2, minimum width=37pt, text=peCre!50!black] (ep10) at (218,879) {Upper};
\node[tsepoch, fill=epG, minimum width=47pt, text=pePal!50!black] (ep11) at (255,879) {EOC};
\node[tsepoch, fill=epN, minimum width=25pt, text=peNeo!45!black] (ep12) at (302,879) {MI};

\node[tsperiod, fill=pePerm, minimum width=53pt, text=pePerm!50!black] (pe1) at (0,890) {Permian};
\node[tsperiod, fill=peTri, minimum width=55pt, text=peTri!55!black] (pe2) at (53,890) {Triassic};
\node[tsperiod, fill=peJur, minimum width=61pt, text=peJur!55!black] (pe3) at (108,890) {Jurassic};
\node[tsperiod, fill=peCre, minimum width=86pt, text=peCre!50!black] (pe4) at (169,890) {Cretaceous};
\node[tsperiod, fill=pePal, minimum width=47pt, text=pePal!45!black] (pe5) at (255,890) {Paleogene};
\node[tsperiod, fill=peNeo, minimum width=25pt, text=peNeo!40!black] (pe6) at (302,890) {Ng};

\node[tsera, fill=erPal, minimum width=53pt, text=erPal!40!black] (er1) at (0,902) {Paleozoic};
\node[tsera, fill=erMes, minimum width=202pt, text=erMes!45!black] (er2) at (53,902) {Mesozoic};
\node[tsera, fill=erCen, minimum width=72pt, text=erCen!40!black] (er3) at (255,902) {Cenozoic};
\node[tseon, fill=eoPha, minimum width=327pt, text=eoPha!40!black] (eo1) at (0,913) {Phanerozoic};

\node[tslab] (lages) at (333,873) {Ages};
\node[tslab] (lepoc) at (333,884.5) {Epochs};
\node[tslab] (lperi) at (333,896) {Periods};
\node[tslab] (leras) at (333,907.5) {Eras};
\node[tslab] (leons) at (333,919.5) {Eons};
\node[font=\fontsize{10}{11}\selectfont] (gtime) at (418.5,894) {Geologic Timescale};

\draw[black!70, line width=0.5pt] (0,928) -- (327,928);
\draw[black!70, line width=0.5pt] (65.8,928) -- (65.8,933) (153,928) -- (153,933) (240,928) -- (240,933) (327,925) -- (327,933);
\node[font=\fontsize{8}{9}\selectfont] (k240) at (65.8,941) {240};
\node[font=\fontsize{8}{9}\selectfont] (k160) at (153,941) {160};
\node[font=\fontsize{8}{9}\selectfont] (k80) at (240,941) {80};
\node[font=\fontsize{8}{9}\selectfont] (k0) at (327,941) {0};
\end{tikzpicture}
\end{document}
